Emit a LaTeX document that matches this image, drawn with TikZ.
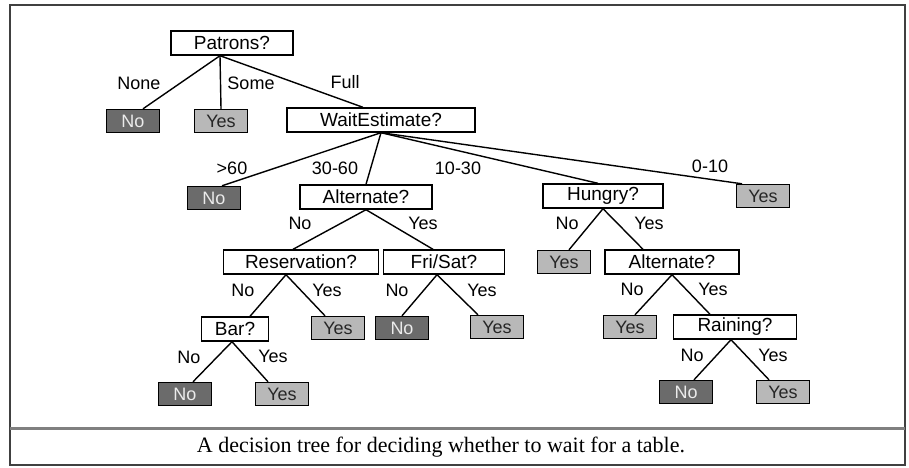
\documentclass[tikz,border=0pt]{standalone}
\usepackage{fontspec}
\setmainfont{Liberation Serif}
\setsansfont{Liberation Sans}

\begin{document}
\begin{tikzpicture}[x=1pt,y=-1pt,
  attr/.style={draw, line width=1.4pt, minimum height=24pt, inner sep=0pt, font=\sffamily\fontsize{19}{19}\selectfont},
  leafno/.style={draw, line width=1.4pt, fill=black!58, text=black!8, minimum width=53pt, minimum height=23pt, inner sep=0pt, font=\sffamily\fontsize{18}{18}\selectfont},
  leafyes/.style={leafno, fill=black!28, text=black!85},
  lab/.style={font=\sffamily\fontsize{18}{18}\selectfont},
  branch/.style={draw, line width=1.4pt}]
\useasboundingbox (0,0) rectangle (909,467);
\draw[line width=1.5pt, black!75] (10,5) rectangle (905,465);
\draw[line width=3pt, black!50] (10,428) -- (905,428);

\node[attr, minimum width=122pt] (patrons) at (232,43) {Patrons?};
\node[leafno] (no1) at (133,121) {No};
\node[leafyes] (yes1) at (221,121) {Yes};
\node[attr, minimum width=188pt] (wait) at (381,120) {WaitEstimate?};

\node[leafno] (no2) at (214,198) {No};
\node[attr, minimum width=132pt] (alt1) at (366,197) {Alternate?};
\node[attr, minimum width=120pt] (hungry) at (603,196) {Hungry?};
\node[leafyes] (yes2) at (763,196) {Yes};

\node[attr, minimum width=155pt] (reserv) at (301,262) {Reservation?};
\node[attr, minimum width=121pt] (frisat) at (444,262) {Fri/Sat?};
\node[leafyes] (yes3) at (564,262) {Yes};
\node[attr, minimum width=134pt] (alt2) at (672,262) {Alternate?};

\node[attr, minimum width=67pt] (bar) at (235,329) {Bar?};
\node[leafyes] (yes4) at (338,328) {Yes};
\node[leafno] (no3) at (402,328) {No};
\node[leafyes] (yes5) at (497,327) {Yes};
\node[leafyes] (yes6) at (630,327) {Yes};
\node[attr, minimum width=123pt] (rain) at (735,327) {Raining?};

\node[leafno] (no4) at (185,394) {No};
\node[leafyes] (yes7) at (282,394) {Yes};
\node[leafno] (no5) at (686,392) {No};
\node[leafyes] (yes8) at (783,392) {Yes};

\path[branch] ([xshift=-12pt]patrons.south) -- ([xshift=10pt]no1.north);
\path[branch] ([xshift=-12pt]patrons.south) -- (yes1.north);
\path[branch] ([xshift=-12pt]patrons.south) -- ([xshift=-18pt]wait.north);
\path[branch] (wait.south) -- ([xshift=8pt]no2.north);
\path[branch] (wait.south) -- (alt1.north);
\path[branch] (wait.south) -- ([xshift=-5pt]hungry.north);
\path[branch] (wait.south) -- ([xshift=-21pt]yes2.north);
\path[branch] (alt1.south) -- ([xshift=-8pt]reserv.north);
\path[branch] (alt1.south) -- ([xshift=-11pt]frisat.north);
\path[branch] ([xshift=-15pt]reserv.south) -- ([xshift=15pt]bar.north);
\path[branch] ([xshift=-15pt]reserv.south) -- ([xshift=-13pt]yes4.north);
\path[branch] ([xshift=-7pt]frisat.south) -- (no3.north);
\path[branch] ([xshift=-7pt]frisat.south) -- ([xshift=-19pt]yes5.north);
\path[branch] ([xshift=-3pt]bar.south) -- ([xshift=8pt]no4.north);
\path[branch] ([xshift=-3pt]bar.south) -- ([xshift=-14pt]yes7.north);
\path[branch] (hungry.south) -- ([xshift=5pt]yes3.north);
\path[branch] (hungry.south) -- ([xshift=-29pt]alt2.north);
\path[branch] (alt2.south) -- ([xshift=5pt]yes6.north);
\path[branch] (alt2.south) -- ([xshift=-25pt]rain.north);
\path[branch] ([xshift=-4pt]rain.south) -- ([xshift=8pt]no5.north);
\path[branch] ([xshift=-4pt]rain.south) -- ([xshift=-14pt]yes8.north);

\node[lab] (lnone) at (139,83) {None};
\node[lab] (lsome) at (251,83) {Some};
\node[lab] (lfull) at (345,82) {Full};
\node[lab] (lover60) at (232,168) {>60};
\node[lab] (l3060) at (335,168) {30-60};
\node[lab] (l1030) at (458,168) {10-30};
\node[lab] (l010) at (710,166) {0-10};
\node[lab] (lalt1no) at (300,223) {No};
\node[lab] (lalt1yes) at (423,223) {Yes};
\node[lab] (lhunno) at (567,223) {No};
\node[lab] (lhunyes) at (649,223) {Yes};
\node[lab] (lresno) at (243,290) {No};
\node[lab] (lresyes) at (327,290) {Yes};
\node[lab] (lfrino) at (397,290) {No};
\node[lab] (lfriyes) at (482,290) {Yes};
\node[lab] (lalt2no) at (632,289) {No};
\node[lab] (lalt2yes) at (713,289) {Yes};
\node[lab] (lbarno) at (189,357) {No};
\node[lab] (lbaryes) at (273,356) {Yes};
\node[lab] (lrainno) at (692,355) {No};
\node[lab] (lrainyes) at (773,355) {Yes};

\node[font=\fontsize{22}{22}\selectfont] (caption) at (441,447) {A decision tree for deciding whether to wait for a table.};
\end{tikzpicture}
\end{document}
